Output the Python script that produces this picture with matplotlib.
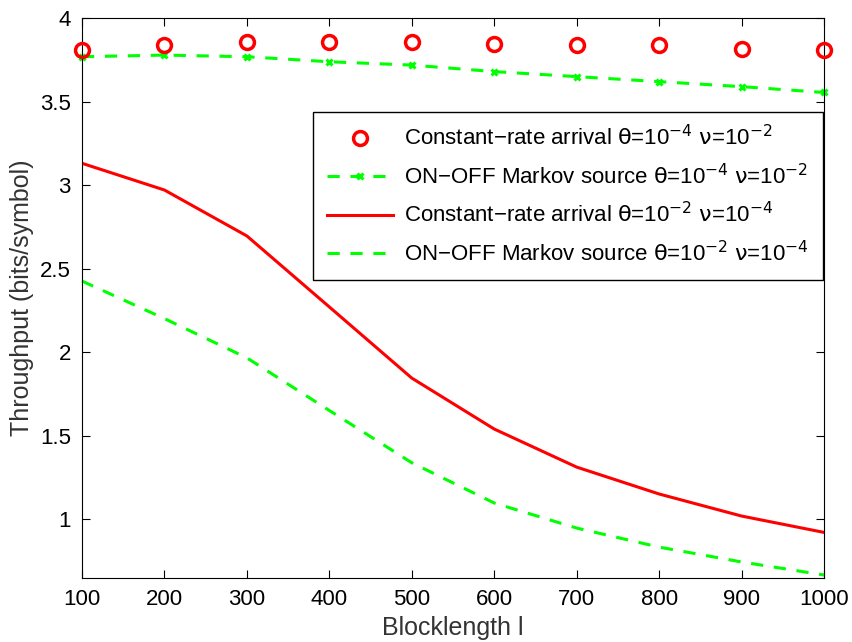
import numpy as np
import matplotlib.pyplot as plt

plt.rcParams['font.family'] = ['Liberation Sans Narrow', 'Liberation Sans', 'DejaVu Sans']
plt.rcParams['mathtext.fontset'] = 'custom'
plt.rcParams['mathtext.rm'] = 'Liberation Sans Narrow'
plt.rcParams['mathtext.it'] = 'Liberation Sans Narrow'

# Datos
blocklength = [100, 200, 300, 400, 500, 600, 700, 800, 900, 1000]
const_a = [3.806, 3.837, 3.857, 3.857, 3.857, 3.847, 3.84, 3.84, 3.817, 3.806]
onoff_a = [3.768, 3.778, 3.768, 3.738, 3.718, 3.679, 3.649, 3.619, 3.589, 3.554]
const_b = [3.13, 2.97, 2.695, 2.27, 1.844, 1.539, 1.311, 1.15, 1.018, 0.92]
onoff_b = [2.425, 2.2, 1.965, 1.65, 1.337, 1.096, 0.946, 0.832, 0.743, 0.665]

lab1 = 'Constant\u2212rate arrival $\\theta$=10$^{-4}$ $\\nu$=10$^{-2}$'
lab2 = 'ON\u2212OFF Markov source $\\theta$=10$^{-4}$ $\\nu$=10$^{-2}$'
lab3 = 'Constant\u2212rate arrival $\\theta$=10$^{-2}$ $\\nu$=10$^{-4}$'
lab4 = 'ON\u2212OFF Markov source $\\theta$=10$^{-2}$ $\\nu$=10$^{-4}$'

fig = plt.figure(figsize=(8.52, 6.42), dpi=100)
ax = fig.add_axes([82 / 852, 1 - 578 / 642, (824 - 82) / 852, (578 - 18) / 642])

ax.plot(blocklength, const_a, 'o', color='red', markersize=10, markeredgewidth=2.5,
        markerfacecolor='none', label=lab1, clip_on=False, zorder=3)
ax.plot(blocklength, onoff_a, '--x', color='#00ff00', linewidth=2.2, markersize=5,
        markeredgewidth=2.2, dashes=(4, 3.5), label=lab2, clip_on=False)
ax.plot(blocklength, const_b, '-', color='red', linewidth=2.2, label=lab3)
ax.plot(blocklength, onoff_b, '--', color='#00ff00', linewidth=2.2, dashes=(4, 3.5),
        label=lab4, clip_on=False)

ax.set_xlim(100, 1000)
ax.set_ylim(0.647, 4)
ax.set_xticks(range(100, 1001, 100))
ax.set_yticks([1, 1.5, 2, 2.5, 3, 3.5, 4])
ax.set_yticklabels(['1', '1.5', '2', '2.5', '3', '3.5', '4'])
ax.tick_params(direction='in', top=True, right=True, labelsize=16, length=6, pad=8)
ax.set_xlabel('Blocklength l', fontsize=18, color='#333333', labelpad=4)
ax.set_ylabel('Throughput (bits/symbol)', fontsize=18, color='#333333')

leg = ax.legend(loc='upper right', bbox_to_anchor=(0.998, 0.832), borderaxespad=0,
                fontsize=16, frameon=True, fancybox=False, edgecolor='black',
                framealpha=1, handlelength=3.0, handletextpad=0.5,
                labelspacing=0.6, borderpad=0.6)
leg.get_frame().set_linewidth(1.0)

plt.savefig('out.png', dpi=100)
